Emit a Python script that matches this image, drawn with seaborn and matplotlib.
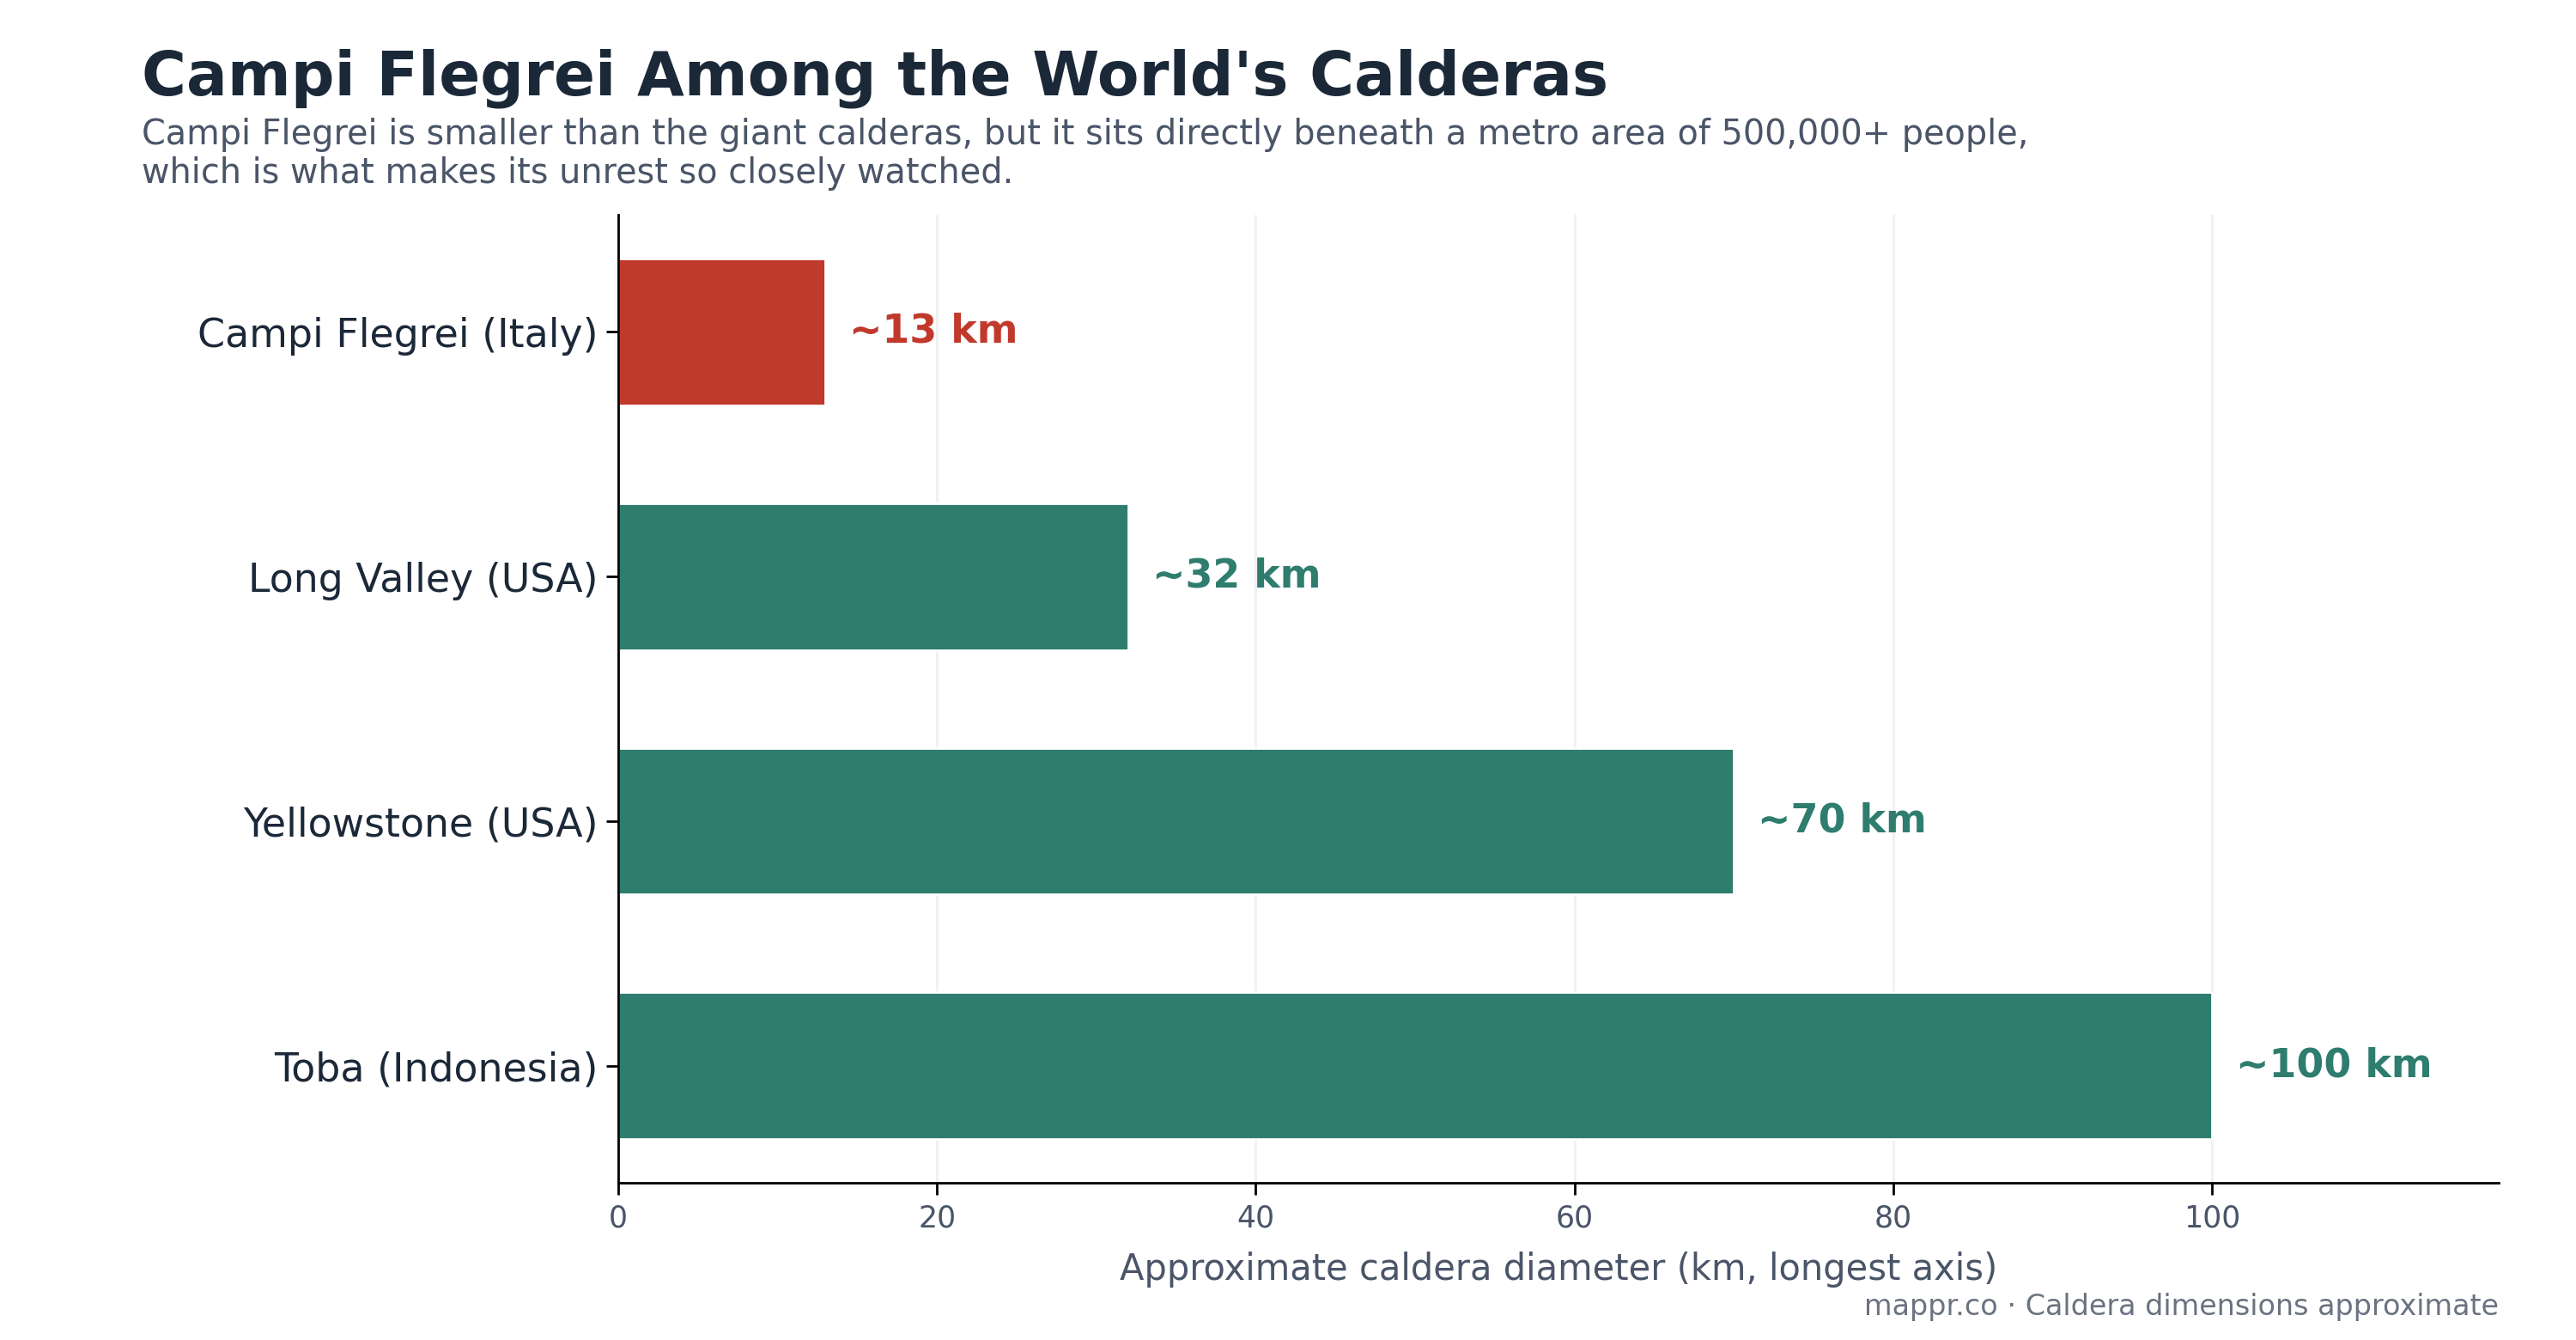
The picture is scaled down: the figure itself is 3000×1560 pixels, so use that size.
import matplotlib
matplotlib.use("Agg")
import matplotlib.pyplot as plt
import seaborn as sns
import pandas as pd

calderas = ["Campi Flegrei (Italy)", "Long Valley (USA)", "Yellowstone (USA)", "Toba (Indonesia)"]
diameters = [13, 32, 70, 100]
labels = ["~13 km", "~32 km", "~70 km", "~100 km"]
colors = ["#c0392b", "#2e7d6e", "#2e7d6e", "#2e7d6e"]

sns.set_theme(style="white")
plt.rcParams['font.family'] = ['DejaVu Sans']

df = pd.DataFrame({"caldera": calderas, "diameter": diameters})

fig = plt.figure(figsize=(15, 7.8), dpi=200)
ax = fig.add_axes([0.240, 0.117, 0.730, 0.723])

sns.barplot(data=df, y="caldera", x="diameter", hue="caldera", palette=colors,
            order=calderas, hue_order=calderas, width=0.6, legend=False, ax=ax,
            saturation=1)

ax.set_xlim(0, 118)
ax.set_ylim(3.48, -0.48)
ax.set_xticks([0, 20, 40, 60, 80, 100])
ax.grid(axis="x", color="#f0f0f0", linewidth=1)
ax.set_axisbelow(True)
for s in ["top", "right"]:
    ax.spines[s].set_visible(False)
for s in ["left", "bottom"]:
    ax.spines[s].set_color("black")
    ax.spines[s].set_linewidth(1.0)

ax.tick_params(axis="y", labelsize=16.5, left=True, length=5, width=1, colors="black", labelcolor="#1b2838")
ax.tick_params(axis="x", labelsize=12.5, bottom=True, length=5, width=1, colors="black", labelcolor="#4a5568")
ax.set_ylabel("")
ax.set_xlabel("Approximate caldera diameter (km, longest axis)", fontsize=15, color="#4a5568", labelpad=8)

for i, (v, lab, c) in enumerate(zip(diameters, labels, colors)):
    ax.text(v + 1.5, i, lab, va="center", ha="left", fontsize=16.5, fontweight="bold", color=c)

fig.text(0.055, 0.929, "Campi Flegrei Among the World's Calderas", fontsize=25.5, fontweight="bold",
         color="#1b2838", ha="left", va="baseline")
fig.text(0.055, 0.858, "Campi Flegrei is smaller than the giant calderas, but it sits directly beneath a metro area of 500,000+ people,\nwhich is what makes its unrest so closely watched.",
         fontsize=14.3, color="#4a5568", ha="left", va="bottom", linespacing=1.15)
fig.text(0.970, 0.014, "mappr.co · Caldera dimensions approximate", fontsize=12, color="#6b7280",
         ha="right", va="bottom")

fig.savefig("out.png", dpi=200, facecolor="white")
